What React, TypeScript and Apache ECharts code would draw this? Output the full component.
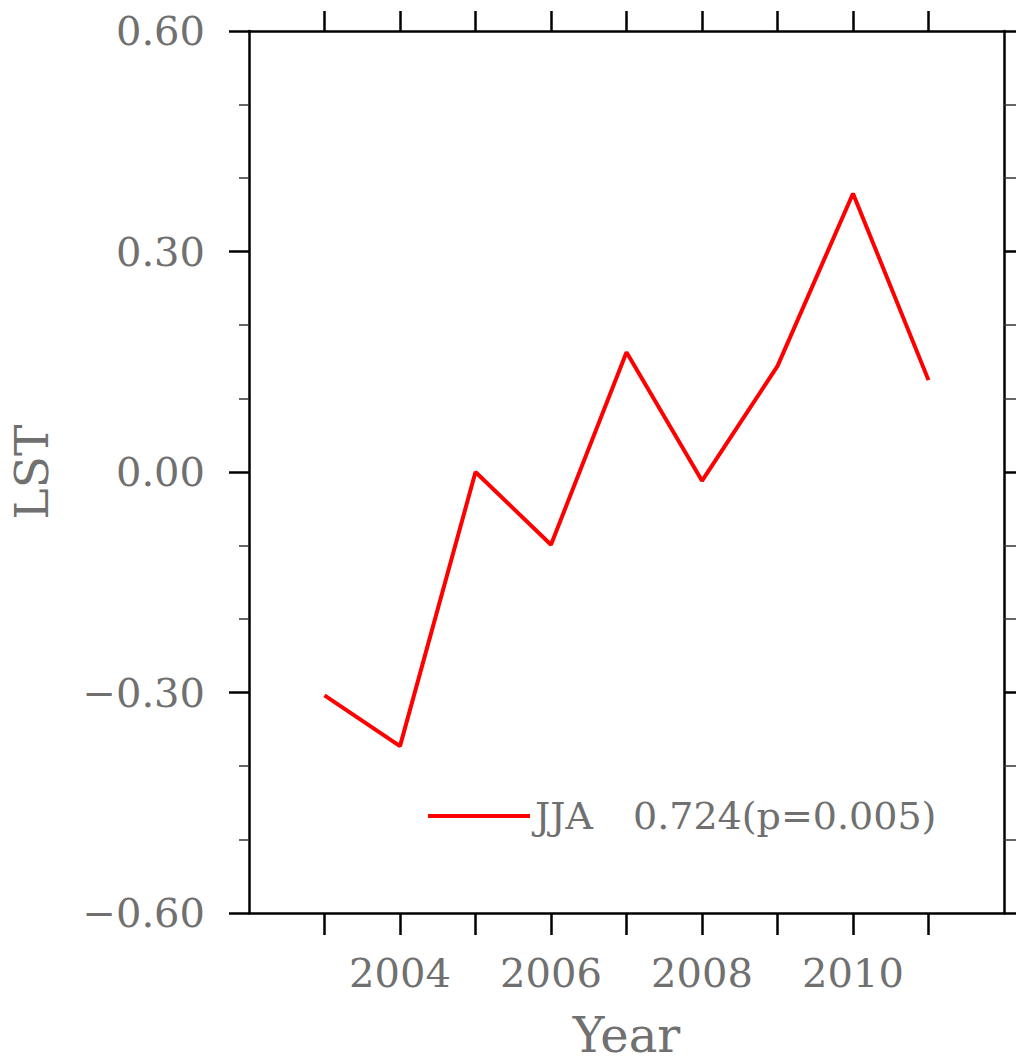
import React, { useEffect, useRef } from "react";
import * as echarts from "echarts";

const years = [2003, 2004, 2005, 2006, 2007, 2008, 2009, 2010, 2011];
const lstJJA = [-0.304, -0.373, 0.0, -0.099, 0.163, -0.012, 0.144, 0.379, 0.125];
const xTickYears = [2003, 2004, 2005, 2006, 2007, 2008, 2009, 2010, 2011];
const xLabelYears = [2004, 2006, 2008, 2010];
const seriesName = "JJA";
const corrText = "0.724(p=0.005)";

const FONT = "DejaVu Serif";
const TXT = "#707070";

export default function App() {
  const ref = useRef<HTMLDivElement>(null);
  useEffect(() => {
    if (!ref.current) return;
    const chart = echarts.init(ref.current, null, { renderer: "svg" });
    const fmtY = (v: number) => {
      const s = Math.abs(v).toFixed(2);
      return v < -1e-9 ? "\u2212" + s : s;
    };
    const axisLine = { show: true, onZero: false, lineStyle: { color: "#000", width: 2.5 } };
    chart.setOption({
      animation: false,
      backgroundColor: "#fff",
      grid: { left: 247, right: 12, top: 31, bottom: 146, containLabel: false },
      legend: {
        show: true,
        left: 428,
        top: 797,
        padding: 0,
        icon: "rect",
        itemWidth: 102,
        itemHeight: 4,
        selectedMode: false,
        data: [seriesName],
        formatter: () => "{a|" + seriesName + "}{b|" + corrText + "}",
        textStyle: {
          fontFamily: FONT,
          fontSize: 38,
          color: TXT,
          rich: {
            a: { fontFamily: FONT, fontSize: 38, color: TXT, width: 98 },
            b: { fontFamily: FONT, fontSize: 38, color: TXT },
          },
        },
      },
      xAxis: [
        {
          type: "value",
          position: "bottom",
          min: 2002,
          max: 2012,
          interval: 1,
          splitLine: { show: false },
          axisLine,
          axisTick: {
            show: true,
            inside: false,
            length: 22,
            customValues: xTickYears,
            lineStyle: { color: "#000", width: 2.5 },
          },
          axisLabel: {
            show: true,
            margin: 40,
            customValues: xLabelYears,
            formatter: (v: number) => String(v),
            fontFamily: FONT,
            fontSize: 40,
            color: TXT,
          },
          name: "Year",
          nameLocation: "middle",
          nameGap: 98,
          nameTextStyle: { fontFamily: FONT, fontSize: 48, color: TXT },
        },
        {
          type: "value",
          position: "top",
          min: 2002,
          max: 2012,
          interval: 1,
          splitLine: { show: false },
          axisLine,
          axisTick: {
            show: true,
            inside: false,
            length: 20,
            customValues: xTickYears,
            lineStyle: { color: "#000", width: 2.5 },
          },
          axisLabel: { show: false },
        },
      ],
      yAxis: [
        {
          type: "value",
          position: "left",
          min: -0.6,
          max: 0.6,
          interval: 0.3,
          splitLine: { show: false },
          axisLine,
          axisTick: { show: true, inside: false, length: 20, lineStyle: { color: "#000", width: 2.5 } },
          minorTick: { show: true, splitNumber: 3, length: 10, lineStyle: { color: "#333", width: 1.5 } },
          minorSplitLine: { show: false },
          axisLabel: {
            show: true,
            margin: 44,
            formatter: fmtY,
            fontFamily: FONT,
            fontSize: 40,
            color: TXT,
          },
          name: "LST",
          nameLocation: "middle",
          nameGap: 194,
          nameTextStyle: { fontFamily: FONT, fontSize: 47, color: TXT },
        },
        {
          type: "value",
          position: "right",
          min: -0.6,
          max: 0.6,
          interval: 0.3,
          splitLine: { show: false },
          axisLine,
          axisTick: { show: true, inside: false, length: 14, lineStyle: { color: "#000", width: 2.5 } },
          minorTick: { show: true, splitNumber: 3, length: 12, lineStyle: { color: "#333", width: 1.5 } },
          minorSplitLine: { show: false },
          axisLabel: { show: false },
        },
      ],
      series: [
        {
          name: seriesName,
          type: "line",
          xAxisIndex: 0,
          yAxisIndex: 0,
          data: years.map((y, i) => [y, lstJJA[i]]),
          showSymbol: false,
          symbol: "none",
          lineStyle: { color: "#ff0000", width: 4 },
          itemStyle: { color: "#ff0000" },
        },
      ],
    });
    return () => chart.dispose();
  }, []);
  return (
    <div
      ref={ref}
      style={{ position: "fixed", left: 0, top: 0, width: 1016, height: 1064 }}
    />
  );
}
